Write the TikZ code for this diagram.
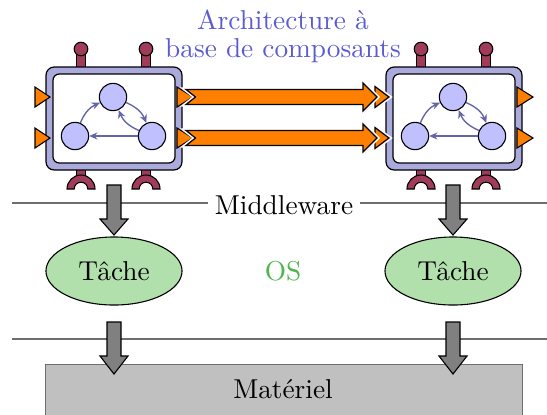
\documentclass[tikz,border=0pt]{standalone}
\usetikzlibrary{shapes.geometric,arrows.meta}
\definecolor{lav}{RGB}{170,170,221}
\definecolor{circfill}{RGB}{192,192,255}
\definecolor{innerblue}{RGB}{100,100,170}
\definecolor{maroon}{RGB}{160,60,90}
\definecolor{orng}{RGB}{255,128,0}
\definecolor{garr}{RGB}{128,128,128}
\definecolor{tgreen}{RGB}{178,224,172}
\definecolor{osgreen}{RGB}{80,180,80}
\definecolor{titleblue}{RGB}{90,90,210}
\definecolor{hw}{RGB}{192,192,192}
\definecolor{sepline}{RGB}{110,110,110}
\tikzset{
  outerbox/.style={draw=black, fill=lav, line width=0.45pt, rounded corners=3pt},
  innerbox/.style={draw=black, fill=white, line width=0.45pt, rounded corners=2.3pt},
  circ/.style={circle, draw=black, fill=circfill, line width=0.4pt, minimum size=10pt, inner sep=0pt},
  innerarr/.style={draw=innerblue, line width=0.5pt, -{Stealth[length=3pt,width=2.6pt]}},
  pinst/.style={draw=black, fill=maroon, line width=0.4pt},
  porttri/.style={draw=black, fill=orng, line width=0.4pt},
  bigarr/.style={draw=black, fill=orng, line width=0.45pt, line join=miter},
  halo/.style={draw=white, line width=1.6pt, line join=miter},
  shadowarr/.style={fill=black!35, draw=none},
  grayarr/.style={draw=black, fill=garr, line width=0.4pt},
  tache/.style={ellipse, draw=black, fill=tgreen, line width=0.4pt, minimum width=49.8pt, minimum height=24.9pt, inner sep=0pt},
  sep/.style={draw=sepline, line width=0.45pt}
}
\begin{document}
\begin{tikzpicture}[x=0.366pt,y=-0.366pt]
\useasboundingbox (0,0) rectangle (547,414);
\begin{scope}
\clip (0,0) rectangle (547,414);
% separator lines
\coordinate (mwL) at (12,203);
\coordinate (mwR) at (547,203);
\coordinate (osL) at (12,339);
\coordinate (osR) at (547,339);
\draw[sep] (mwL) -- (mwR);
\draw[sep] (osL) -- (osR);
\node[fill=white, inner sep=2.5pt] (mw) at (284,205) {Middleware};
% hardware
\node[draw=sepline, fill=hw, line width=0.45pt, minimum width=174.6pt, minimum height=22pt, anchor=north west, inner sep=0pt] (hwbox) at (45,364) {};
\node (mat) at (283,389) {Matériel};
% title
\node[text=titleblue, anchor=base] (title1) at (283,29) {Architecture à};
\node[text=titleblue, anchor=base] (title2) at (283,57) {base de composants};
% components
\foreach \i/\dx in {1/0,2/340}{
\begin{scope}[shift={(\dx,0)}]
  \foreach \px in {81,146}{
    \draw[pinst] (\px-4.7,49) rectangle (\px+4.7,68);
    \draw[pinst] (\px,49) circle[radius=6.8];
    \draw[pinst] (\px-4.7,166) rectangle (\px+4.7,176);
    \draw[pinst] (\px-14,189) arc[start angle=180,end angle=360,radius=14] -- (\px+6.8,189) arc[start angle=0,end angle=-180,radius=6.8] -- cycle;
  }
  \draw[outerbox] (46,67) rectangle (182,170);
  \draw[innerbox] (53,74) rectangle (175,163);
  \node[circ] (T\i) at (113,97) {};
  \node[circ] (L\i) at (75,136) {};
  \node[circ] (R\i) at (152,136) {};
  \draw[innerarr] (L\i) to[bend left=22] (T\i);
  \draw[innerarr] (T\i) to[bend left=22] (R\i);
  \draw[innerarr] (R\i) to[bend left=22] (T\i);
  \draw[innerarr] (R\i) -- (L\i);
  \foreach \py in {97,138}{
    \draw[porttri] (35,\py-10) -- (50,\py) -- (35,\py+10) -- cycle;
    \draw[porttri] (177,\py-10) -- (193,\py) -- (177,\py+10) -- cycle;
  }
\end{scope}
}
% big double arrows
\foreach \c in {97,138}{
  \coordinate (s\c) at (186,\c);
  \fill[shadowarr] (187.5,\c-6) -- (197.5,\c+1.5) -- (187.5,\c+9) -- (364.5,\c+9) -- (364.5,\c+15.5) -- (378.5,\c+1.5) -- cycle;
  \draw[halo] (375,\c-10.5) -- (389,\c) -- (375,\c+10.5) -- cycle;
  \draw[bigarr] (375,\c-10.5) -- (389,\c) -- (375,\c+10.5) -- cycle;
  \draw[halo] (s\c) ++(0,-7.5) -- ++(9.5,7.5) -- ++(-9.5,7.5) -- (363,\c+7.5) -- (363,\c+14) -- (377,\c) -- (363,\c-14) -- (363,\c-7.5) -- cycle;
  \draw[bigarr] (s\c) ++(0,-7.5) -- ++(9.5,7.5) -- ++(-9.5,7.5) -- (363,\c+7.5) -- (363,\c+14) -- (377,\c) -- (363,\c-14) -- (363,\c-7.5) -- cycle;
}
% tasks
\node[tache] (tache1) at (114,271) {Tâche};
\node[tache] (tache2) at (453,271) {Tâche};
\node[text=osgreen] (os) at (283,271) {OS};
% gray arrows
\foreach \x/\a/\b/\c in {114/185/219/235, 453/185/219/235, 114/322/356/374, 453/322/356/374}{
  \draw[grayarr] (\x-7,\a) -- (\x-7,\b) -- (\x-14,\b) -- (\x,\c) -- (\x+14,\b) -- (\x+7,\b) -- (\x+7,\a) -- cycle;
}
\end{scope}
\end{tikzpicture}
\end{document}
